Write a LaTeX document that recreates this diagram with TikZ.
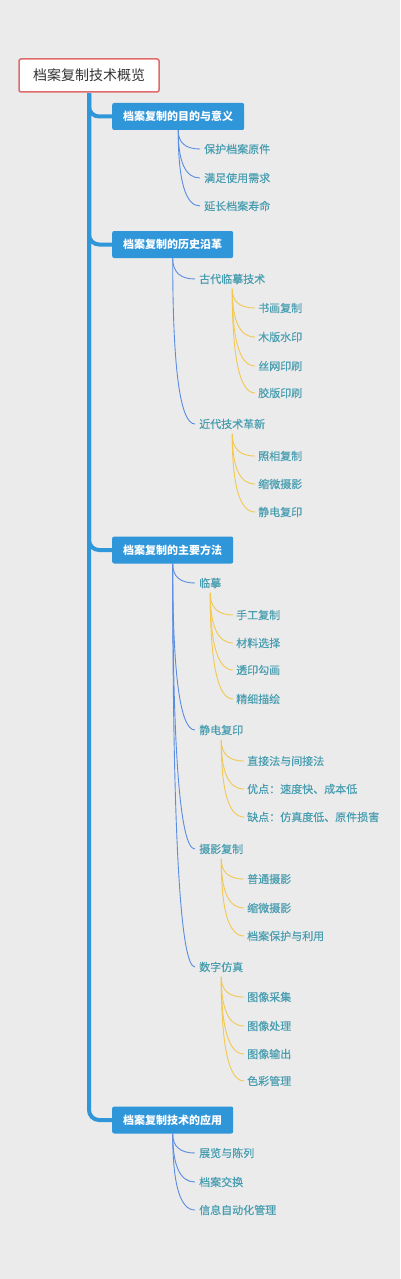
\documentclass[tikz,border=0pt]{standalone}
\usepackage{fontspec}
\usetikzlibrary{calc}
\setmainfont{Noto Sans CJK SC}
\newfontfamily\myitemfont[FakeBold=0.35]{Noto Sans CJK SC}
\definecolor{bgc}{HTML}{EBEBEB}
\definecolor{rootred}{HTML}{E06B6B}
\definecolor{secblue}{RGB}{48,150,218}
\definecolor{itemteal}{RGB}{72,158,176}
\definecolor{linkblue}{RGB}{90,140,225}
\definecolor{linkyel}{RGB}{242,200,80}
\tikzset{
  rootbox/.style={draw=rootred, line width=1.5pt, fill=white, rounded corners=2pt,
    minimum width=140pt, minimum height=33pt, inner sep=0pt,
    font=\fontsize{14}{16}\selectfont, text={rgb,255:red,51;green,51;blue,51}},
  secbox/.style={fill=secblue, rounded corners=2pt, anchor=west, inner xsep=11pt,
    inner ysep=0pt, minimum height=27pt, text=white,
    font=\fontsize{11}{13}\selectfont\bfseries},
  item/.style={anchor=west, inner sep=0pt, text=itemteal,
    font=\myitemfont\fontsize{11}{13}\selectfont},
  trunk/.style={draw=secblue, line width=4pt, rounded corners=10pt},
  bl/.style={draw=linkblue, line width=0.9pt},
  yl/.style={draw=linkyel, line width=0.9pt}
}
% quadratic-like curve from #2 to #3 with corner control #4
\newcommand\myquad[4]{%
  \draw[#1] (#2) .. controls ($(#2)!0.6667!(#4)$) and ($(#3)!0.6667!(#4)$) .. (#3);}
\newcommand\myconnb[2]{%
  \coordinate (st) at (#1.south);
  \coordinate (en) at ([xshift=-4pt]#2.west);
  \coordinate (cq) at (#1.south |- #2.west);
  \myquad{bl}{st}{en}{cq}}
\newcommand\myconny[2]{%
  \coordinate (st) at ([yshift=-4.5pt]#1.south);
  \coordinate (en) at ([xshift=-3pt]#2.west);
  \coordinate (cq) at (#1.south |- #2.west);
  \myquad{yl}{st}{en}{cq}}
\begin{document}
\begin{tikzpicture}[x=1pt,y=-1pt]
\path[use as bounding box, fill=bgc] (0,0) rectangle (400,1279);
% root
\node[rootbox] (root) at (89,75.5) {档案复制技术概览};
% sections
\node[secbox] (s1) at (112,116.5) {档案复制的目的与意义};
\node[secbox] (s2) at (112,244.5) {档案复制的历史沿革};
\node[secbox] (s3) at (112,550) {档案复制的主要方法};
\node[secbox] (s4) at (112,1120) {档案复制技术的应用};
% trunk
\coordinate (tr) at ([yshift=-0.75pt]root.south);
\draw[trunk] (tr) |- (s4.west);
\draw[trunk] (tr) |- (s3.west);
\draw[trunk] (tr) |- (s2.west);
\draw[trunk] (tr) |- (s1.west);
% section 1
\node[item] (a1) at (204,149) {保护档案原件};
\node[item] (a2) at (204,178) {满足使用需求};
\node[item] (a3) at (204,206) {延长档案寿命};
\myconnb{s1}{a1}\myconnb{s1}{a2}\myconnb{s1}{a3}
% section 2
\node[item] (b1) at (199,279) {古代临摹技术};
\node[item] (b11) at (258,308) {书画复制};
\node[item] (b12) at (258,337) {木版水印};
\node[item] (b13) at (258,366) {丝网印刷};
\node[item] (b14) at (258,393) {胶版印刷};
\node[item] (b2) at (199,424) {近代技术革新};
\node[item] (b21) at (258,456) {照相复制};
\node[item] (b22) at (258,484) {缩微摄影};
\node[item] (b23) at (258,512) {静电复印};
\myconnb{s2}{b1}\myconnb{s2}{b2}
\myconny{b1}{b11}\myconny{b1}{b12}\myconny{b1}{b13}\myconny{b1}{b14}
\myconny{b2}{b21}\myconny{b2}{b22}\myconny{b2}{b23}
% section 3
\node[item] (c1) at (199,583) {临摹};
\node[item] (c11) at (236,615) {手工复制};
\node[item] (c12) at (236,643) {材料选择};
\node[item] (c13) at (236,670) {透印勾画};
\node[item] (c14) at (236,699) {精细描绘};
\node[item] (c2) at (199,730) {静电复印};
\node[item] (c21) at (247,761) {直接法与间接法};
\node[item] (c22) at (247,789) {优点：速度快、成本低};
\node[item] (c23) at (247,817) {缺点：仿真度低、原件损害};
\node[item] (c3) at (199,849) {摄影复制};
\node[item] (c31) at (247,879) {普通摄影};
\node[item] (c32) at (247,908) {缩微摄影};
\node[item] (c33) at (247,936) {档案保护与利用};
\node[item] (c4) at (199,967) {数字仿真};
\node[item] (c41) at (247,997) {图像采集};
\node[item] (c42) at (247,1026) {图像处理};
\node[item] (c43) at (247,1054) {图像输出};
\node[item] (c44) at (247,1081) {色彩管理};
\myconnb{s3}{c1}\myconnb{s3}{c2}\myconnb{s3}{c3}\myconnb{s3}{c4}
\myconny{c1}{c11}\myconny{c1}{c12}\myconny{c1}{c13}\myconny{c1}{c14}
\myconny{c2}{c21}\myconny{c2}{c22}\myconny{c2}{c23}
\myconny{c3}{c31}\myconny{c3}{c32}\myconny{c3}{c33}
\myconny{c4}{c41}\myconny{c4}{c42}\myconny{c4}{c43}\myconny{c4}{c44}
% section 4
\node[item] (d1) at (199,1153) {展览与陈列};
\node[item] (d2) at (199,1182) {档案交换};
\node[item] (d3) at (199,1210) {信息自动化管理};
\myconnb{s4}{d1}\myconnb{s4}{d2}\myconnb{s4}{d3}
\end{tikzpicture}
\end{document}
